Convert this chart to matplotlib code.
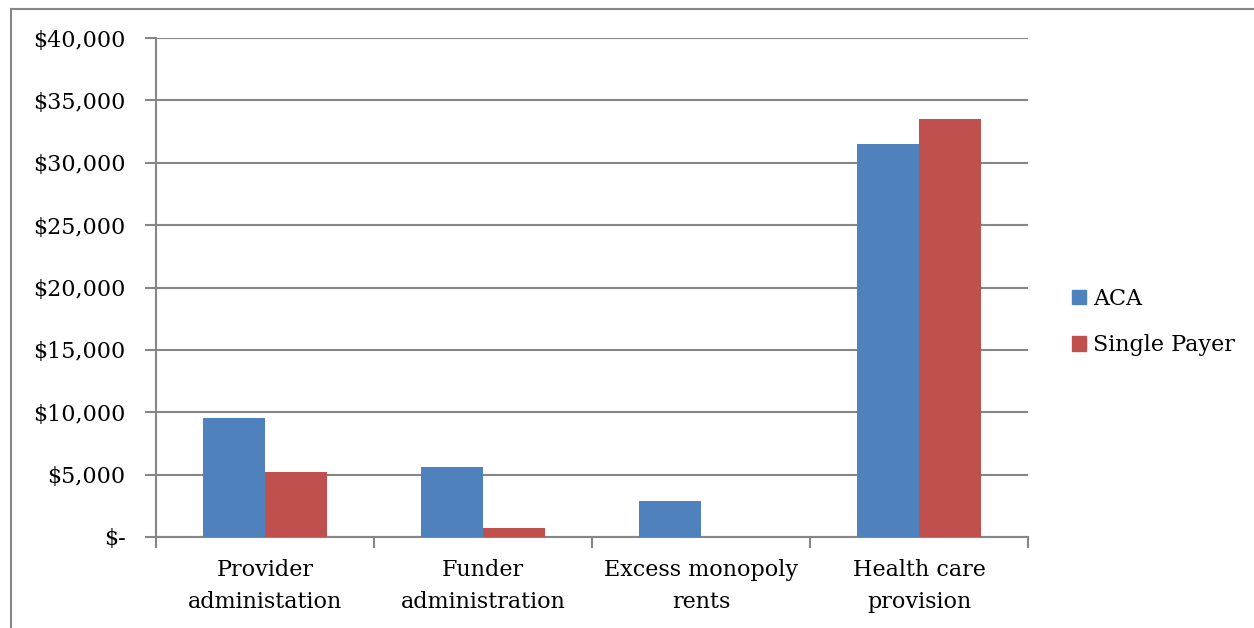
import matplotlib.pyplot as plt
import numpy as np
from matplotlib.lines import Line2D
from matplotlib.ticker import FuncFormatter

categories = ["Provider\nadministation", "Funder\nadministration",
              "Excess monopoly\nrents", "Health care\nprovision"]
aca = [9500, 5600, 2850, 31500]
single_payer = [5200, 700, 0, 33500]
series_names = ["ACA", "Single Payer"]
yticks = [0, 5000, 10000, 15000, 20000, 25000, 30000, 35000, 40000]

plt.rcParams['font.family'] = ['DejaVu Serif']

W, H = 1254, 628
fig = plt.figure(figsize=(W / 100, H / 100), dpi=100)
ax = fig.add_axes([156 / W, 1 - 537 / H, (1028 - 156) / W, (537 - 38) / H])

grey = '#868686'
fs = 16
x = np.arange(len(categories))
bw = 0.284
ax.bar(x - bw / 2, aca, bw, color='#4f81bd', label=series_names[0], zorder=3)
ax.bar(x + bw / 2, single_payer, bw, color='#c0504d', label=series_names[1], zorder=3)

ax.set_xlim(-0.5, len(categories) - 0.5)
ax.set_ylim(0, 40000)
ax.set_yticks(yticks)
ax.yaxis.set_major_formatter(FuncFormatter(
    lambda v, p: "$-" if v == 0 else "${:,.0f}".format(v)))
ax.yaxis.grid(True, color=grey, linewidth=1.5, zorder=0)

# category labels between boundary ticks
ax.set_xticks(np.arange(len(categories) + 1) - 0.5)
ax.set_xticklabels([])
ax.set_xticks(x, minor=True)
ax.set_xticklabels(categories, minor=True, fontsize=fs, linespacing=1.55)
ax.tick_params(axis='x', which='minor', length=0, pad=16)
ax.tick_params(axis='x', which='major', length=8, width=1.5, color=grey)
ax.tick_params(axis='y', length=8, width=1.5, color=grey, labelsize=fs, pad=14)

for side in ['top', 'right']:
    ax.spines[side].set_visible(False)
for side in ['left', 'bottom']:
    ax.spines[side].set_color(grey)
    ax.spines[side].set_linewidth(1.5)

handles = [plt.Rectangle((0, 0), 1, 1, color='#4f81bd'),
           plt.Rectangle((0, 0), 1, 1, color='#c0504d')]
fig.legend(handles, series_names, loc='center left',
           bbox_to_anchor=(1052 / W, 1 - 322 / H), frameon=False,
           fontsize=fs, handlelength=0.63, handleheight=0.63,
           handletextpad=0.3, labelspacing=1.1)

# chart frame
fig.add_artist(Line2D([11 / W, 1], [1 - 9 / H, 1 - 9 / H], color=grey, linewidth=1.5))
fig.add_artist(Line2D([11 / W, 11 / W], [0, 1 - 9 / H], color=grey, linewidth=1.5))

fig.savefig('out.png', dpi=100)
